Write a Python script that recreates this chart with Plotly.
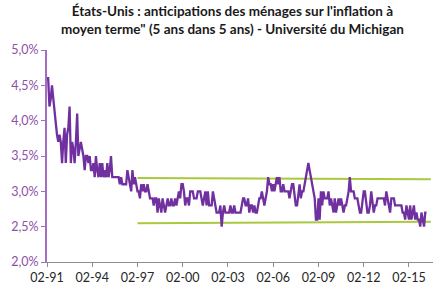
import pandas as pd
import plotly.graph_objects as go

# Monthly series, Feb 1991 onward (University of Michigan 5y-in-5y expectations, %)
start_month = "1991-02-01"
values = [
    4.6, 4.6, 4.2, 4.3, 4.5, 4.3, 4.1, 3.9, 3.8, 3.7, 3.8, 3.7,
    3.4, 3.7, 3.9, 3.4, 3.8, 3.9, 4.2, 3.4, 3.7, 3.6, 3.4, 3.7,
    4.1, 3.5, 3.6, 3.7, 3.6, 3.5, 3.3, 3.5, 3.5, 3.4, 3.5, 3.3,
    3.3, 3.4, 3.2, 3.5, 3.3, 3.2, 3.4, 3.2, 3.4, 3.2, 3.3, 3.2,
    3.4, 3.2, 3.3, 3.5, 3.2, 3.2, 3.2, 3.2, 3.2, 3.2, 3.1, 3.2,
    3.1, 3.1, 3.1, 3.1, 3.3, 3.2, 3.1, 3.0, 3.3, 3.1, 3.2, 3.1,
    3.0, 3.0, 2.9, 3.1, 3.0, 3.1, 3.0, 3.0, 3.1, 3.0, 2.9, 2.9,
    2.9, 2.8, 2.9, 2.9, 2.7, 2.9, 2.8, 2.7, 2.9, 2.8, 2.7, 2.8,
    2.9, 2.8, 2.8, 2.9, 2.8, 2.8, 2.9, 2.8, 2.9, 3.0, 2.9, 3.1,
    3.1, 3.0, 2.8, 2.9, 2.9, 2.8, 3.0, 3.0, 3.0, 2.9, 2.9, 2.9,
    3.0, 3.0, 3.0, 2.9, 2.8, 2.9, 3.0, 2.8, 3.0, 2.8, 2.8, 2.8,
    3.0, 2.9, 2.8, 2.7, 2.7, 2.7, 2.8, 2.5, 2.7, 2.8, 2.7, 2.7,
    2.7, 2.7, 2.8, 2.7, 2.7, 2.8, 2.7, 2.7, 2.7, 2.7, 2.7, 2.8,
    2.9, 2.9, 2.8, 2.8, 2.9, 2.7, 2.8, 2.8, 2.7, 2.8, 2.7, 2.7,
    2.8, 2.9, 2.9, 3.0, 2.9, 2.8, 2.9, 3.0, 3.2, 3.1, 3.1, 3.0,
    3.1, 3.0, 3.1, 3.2, 3.1, 3.2, 3.0, 3.0, 3.1, 3.0, 3.0, 3.0,
    3.0, 2.9, 3.0, 3.1, 3.1, 2.9, 2.8, 2.8, 3.0, 3.1, 2.9, 3.0,
    3.0, 3.1, 3.2, 3.3, 3.4, 3.3, 3.2, 3.1, 3.0, 2.9, 2.6, 2.6,
    2.9, 2.6, 3.0, 2.8, 3.0, 2.9, 2.9, 2.9, 3.0, 2.8, 2.9, 2.8,
    2.7, 2.9, 2.7, 2.8, 2.9, 2.8, 2.9, 2.8, 2.7, 2.8, 2.8, 2.9,
    3.0, 3.2, 3.0, 3.0, 3.0, 2.9, 2.9, 2.9, 2.8, 2.7, 2.7, 2.9,
    3.0, 3.0, 2.8, 2.7, 2.7, 2.8, 3.0, 2.8, 2.7, 2.8, 2.8, 2.9,
    2.9, 2.9, 2.9, 2.9, 2.9, 2.8, 3.0, 2.9, 2.8, 2.7, 2.9, 2.9,
    2.9, 2.8, 2.8, 2.8, 2.8, 2.8, 2.8, 2.7, 2.7, 2.6, 2.8, 2.7,
    2.6, 2.8, 2.6, 2.7, 2.8, 2.6, 2.7, 2.6, 2.6, 2.5, 2.7, 2.6,
    2.5, 2.7, 2.7,
]

# Green band lines (start/end dates and levels)
band_dates = ["1997-02-01", "2016-07-15"]
upper_band = [3.19, 3.17]
lower_band = [2.55, 2.57]

y_ticks = [2.0, 2.5, 3.0, 3.5, 4.0, 4.5, 5.0]
y_tick_labels = ["2,0%", "2,5%", "3,0%", "3,5%", "4,0%", "4,5%", "5,0%"]

title_text = ("États-Unis : anticipations des ménages sur l'inflation à<br>"
              "moyen terme\" (5 ans dans 5 ans) - Université du Michigan")

dates = pd.date_range(start_month, periods=len(values), freq="MS")

PURPLE = "#7030A0"
AXIS_PURPLE = "#A56CC1"
LABEL_PURPLE = "#8E4FA8"
GREEN = "#A9C93F"

fig = go.Figure()
fig.add_trace(go.Scatter(x=band_dates, y=upper_band, mode="lines",
                         line=dict(color=GREEN, width=2), hoverinfo="skip"))
fig.add_trace(go.Scatter(x=band_dates, y=lower_band, mode="lines",
                         line=dict(color=GREEN, width=2), hoverinfo="skip"))
fig.add_trace(go.Scatter(x=dates, y=values, mode="lines",
                         line=dict(color=PURPLE, width=2.3)))

fig.update_layout(
    width=446, height=307,
    margin=dict(l=47, r=13, t=50, b=45),
    paper_bgcolor="white", plot_bgcolor="white",
    showlegend=False,
    font=dict(family="Lato, Carlito, sans-serif"),
    annotations=[dict(
        text=title_text, xref="paper", yref="paper",
        x=0.48, y=1.0, xanchor="center", yanchor="bottom", yshift=11,
        showarrow=False, align="center",
        font=dict(family="Lato, sans-serif", size=13.5, color="#1a1a1a",
                  weight="bold"),
    )],
)
fig.update_xaxes(
    type="date",
    range=["1991-02-01", "2016-09-05"],
    tick0="1991-02-01", dtick="M36", tickformat="%m-%y",
    showgrid=False, zeroline=False,
    showline=True, linecolor="#8c8c8c", linewidth=1,
    ticks="outside", ticklen=4, tickcolor="#8c8c8c",
    tickfont=dict(size=12.5, color="#262626"),
)
fig.update_yaxes(
    range=[2.0, 5.0],
    tickvals=y_ticks, ticktext=y_tick_labels,
    showgrid=False, zeroline=False,
    showline=True, linecolor=AXIS_PURPLE, linewidth=2,
    ticks="outside", ticklen=4, tickcolor=AXIS_PURPLE, tickwidth=1,
    tickfont=dict(size=12.5, color=LABEL_PURPLE),
)

fig.write_html("out.html")
